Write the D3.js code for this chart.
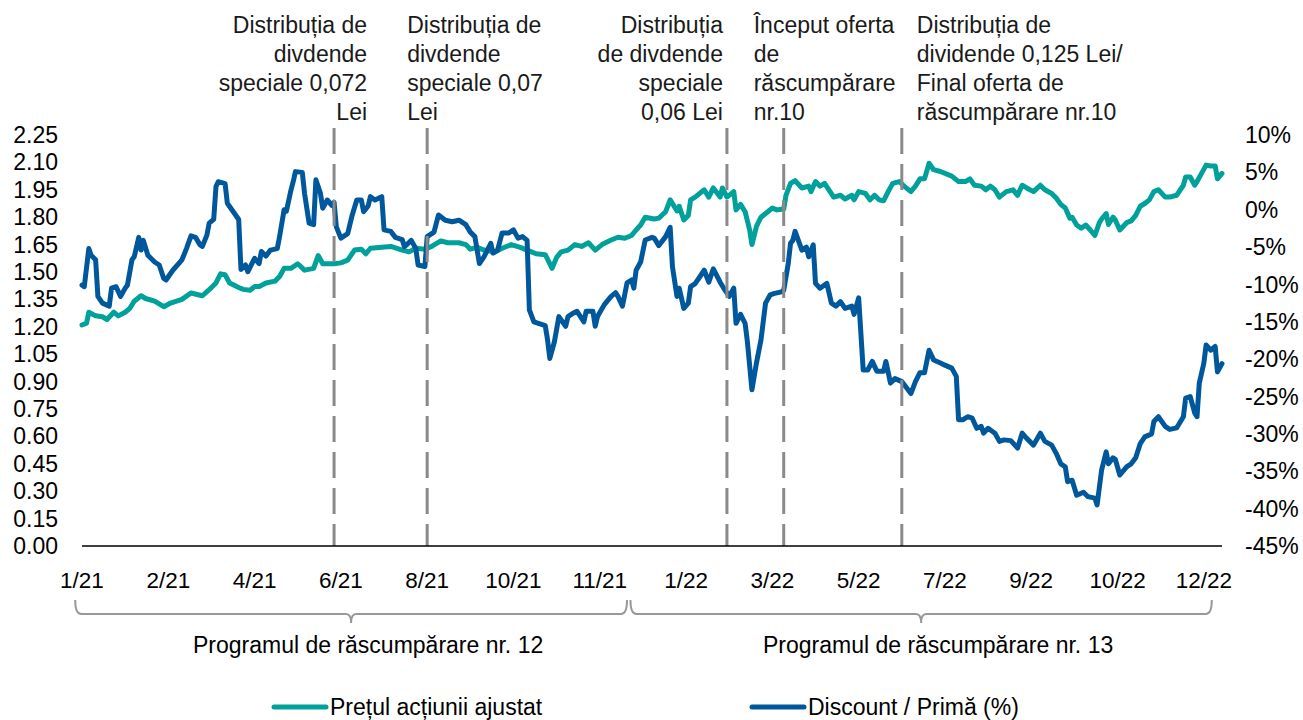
<!DOCTYPE html>
<html>
<head>
<meta charset="utf-8">
<script src="https://cdn.jsdelivr.net/npm/d3@7"></script>
<style>
  body { margin: 0; background: #fff; }
  svg { font-family: "Liberation Sans", Arial, sans-serif; }
</style>
</head>
<body>
<div id="chart"></div>
<script>
// trading-day index (0 = first session of 2021) and adjusted share price (Lei)
const priceDay = [0,2,3,6,9,11,14,16,19,21,23,26,28,32,36,39,44,48,53,57,
  59,61,63,65,69,71,74,76,78,81,85,87,89,92,95,98,102,104,106,111,
  114,117,120,123,125,127,132,136,141,144,147,151,154,158,161,166,169,171,174,177,
  182,185,189,193,196,200,204,207,209,211,214,217,220,223,226,229,233,236,239,242,
  244,246,248,252,254,257,259,262,263,265,267,268,270,274,276,278,281,282,284,287,
  288,290,292,294,295,297,299,302,304,306,309,310,312,314,317,320,321,323,325,327,
  331,334,336,339,340,342,345,347,349,351,353,355,357,360,362,365,367,369,371,373,
  375,378,383,386,389,391,393,396,398,400,402,404,407,410,412,414,416,419,422,424,
  427,429,431,433,435,436,438,440,442,444,446,448,449,451,452,454,455,457,460,462,
  464,466,468,470,472,474,477,479,482,485,486,488,490,491,493,495,497,499,500,502];
const priceVal = [1.21,1.22,1.28,1.26,1.255,1.24,1.28,1.26,1.28,1.30,
  1.34,1.37,1.355,1.34,1.31,1.33,1.35,1.385,1.37,1.415,
  1.44,1.49,1.485,1.44,1.415,1.405,1.40,1.42,1.42,1.44,
  1.45,1.475,1.52,1.52,1.545,1.51,1.52,1.59,1.545,1.545,
  1.55,1.565,1.62,1.625,1.60,1.63,1.635,1.64,1.62,1.61,
  1.63,1.625,1.64,1.67,1.66,1.66,1.65,1.625,1.635,1.62,
  1.61,1.63,1.65,1.635,1.62,1.60,1.595,1.52,1.58,1.61,
  1.62,1.65,1.64,1.66,1.62,1.65,1.675,1.69,1.685,1.70,
  1.73,1.757,1.80,1.79,1.795,1.83,1.895,1.835,1.86,1.785,
  1.81,1.895,1.91,1.95,1.91,1.96,1.91,1.96,1.91,1.94,
  1.84,1.87,1.83,1.73,1.65,1.75,1.80,1.83,1.85,1.84,
  1.845,1.92,1.985,2.00,1.96,1.97,1.94,1.995,1.97,1.985,
  1.91,1.92,1.90,1.92,1.895,1.94,1.93,1.895,1.92,1.895,
  1.89,1.94,1.985,1.995,1.97,1.94,1.97,2.01,2.01,2.095,
  2.06,2.05,2.025,1.995,1.995,2.01,1.975,1.97,1.95,1.97,
  1.95,1.91,1.94,1.95,1.92,1.975,1.96,1.94,1.975,1.95,
  1.93,1.905,1.87,1.85,1.795,1.80,1.757,1.74,1.757,1.73,
  1.70,1.77,1.79,1.82,1.76,1.80,1.785,1.73,1.77,1.78,
  1.81,1.86,1.875,1.895,1.94,1.95,1.91,1.91,1.92,1.975,
  2.02,2.02,1.975,1.995,2.04,2.085,2.08,2.08,2.01,2.04];

// trading-day index and discount / premium to NAV (%)
const discDay = [0,1,3,4,6,7,9,12,13,15,17,19,20,22,23,25,26,27,29,32,
  34,36,37,40,44,46,48,50,52,53,55,56,58,59,60,63,64,66,69,70,
  72,73,76,78,79,81,83,86,87,89,90,92,93,94,97,98,100,102,103,105,
  106,108,110,111,112,114,117,119,121,123,124,126,127,129,132,133,136,138,141,142,
  145,147,148,151,152,155,157,160,163,166,169,171,173,175,177,180,181,183,185,188,
  190,192,194,196,197,199,204,205,206,208,210,213,214,216,218,221,222,225,226,227,
  230,233,235,236,238,240,242,243,244,246,248,251,252,254,257,259,260,262,263,265,
  267,268,270,272,274,276,278,281,283,285,287,288,290,292,293,295,297,299,301,303,
  305,308,309,311,312,313,314,317,319,320,322,323,325,328,330,332,334,336,339,340,
  342,344,346,348,350,353,354,356,358,361,365,367,369,371,373,375,378,380,383,385,
  386,388,390,392,394,396,397,399,402,404,406,409,412,414,416,419,422,424,427,429,
  431,433,434,436,438,441,443,446,447,449,451,452,454,455,457,460,462,464,466,468,
  471,472,474,477,479,482,485,486,488,490,491,492,494,495,497,499,500,502];
const discVal = [-10.1,-10.3,-5.2,-6.1,-6.7,-11.6,-12.5,-12.9,-10.5,-10.3,
  -11.6,-10.5,-10.1,-6.7,-6.3,-3.7,-5.4,-4.1,-6.1,-7.0,
  -7.4,-9.2,-9.4,-8.1,-6.7,-5.2,-3.5,-3.7,-4.7,-4.9,
  -3.4,-1.8,-1.3,3.1,3.75,3.5,0.86,0.0,-1.3,-8.0,
  -7.4,-8.3,-6.5,-7.2,-5.6,-6.2,-5.4,-5.2,-3.6,0.0,
  -0.2,2.6,3.75,5.1,5.0,2.2,-1.8,-2.0,4.0,2.2,
  0.2,1.3,0.6,1.0,-2.3,-3.8,-3.2,-0.7,1.3,1.3,
  -0.25,0.5,1.75,1.3,1.75,-2.7,-2.9,-3.7,-4.0,-4.95,
  -4.1,-5.2,-7.4,-7.6,-3.6,-3.0,-0.7,-1.4,-1.6,-1.4,
  -2.0,-3.0,-3.6,-7.2,-6.3,-4.5,-5.8,-5.4,-3.1,-3.1,
  -2.7,-3.8,-3.6,-4.1,-13.4,-15.0,-15.5,-17.4,-19.9,-17.7,
  -14.3,-15.6,-14.3,-13.9,-13.6,-15.0,-13.6,-13.6,-15.6,-14.3,
  -12.7,-11.6,-11.1,-11.6,-12.9,-9.8,-9.4,-10.5,-8.1,-7.0,
  -4.05,-3.7,-3.8,-4.8,-3.6,-2.35,-7.6,-11.6,-10.5,-13.2,
  -12.5,-10.3,-9.9,-9.0,-8.1,-9.7,-7.9,-9.7,-10.7,-11.6,
  -10.5,-15.2,-14.0,-15.2,-17.65,-24.1,-20.5,-17.4,-12.5,-11.4,
  -11.2,-11.0,-10.8,-7.2,-4.5,-4.1,-2.9,-5.4,-5.0,-6.3,
  -4.7,-9.85,-10.5,-9.85,-12.5,-12.9,-12.3,-13.2,-12.9,-14.0,
  -11.8,-21.45,-21.45,-20.3,-21.6,-21.6,-20.3,-23.2,-22.6,-23.0,
  -24.6,-23.0,-21.8,-21.8,-18.8,-20.1,-20.5,-20.8,-21.2,-22.3,
  -28.1,-28.1,-27.7,-27.9,-29.25,-29.0,-29.9,-29.25,-29.9,-31.0,
  -30.8,-30.9,-31.9,-29.9,-30.6,-31.5,-29.9,-31.0,-31.5,-32.6,
  -34.0,-34.4,-36.4,-36.2,-38.2,-37.8,-38.4,-38.6,-39.5,-34.8,
  -32.4,-34.0,-33.2,-33.4,-35.5,-34.4,-34.0,-33.2,-31.3,-30.4,
  -30.0,-28.35,-27.7,-29.0,-29.4,-29.2,-27.7,-25.2,-25.0,-27.2,
  -27.7,-23.2,-20.55,-18.1,-18.8,-18.3,-21.7,-20.6];

const xLabels = ["1/21","2/21","4/21","6/21","8/21","10/21","11/21",
  "1/22","3/22","5/22","7/22","9/22","10/22","12/22"];
const leftTicks = [0,0.15,0.30,0.45,0.60,0.75,0.90,1.05,1.20,1.35,1.50,1.65,1.80,1.95,2.10,2.25];
const rightTicks = [-45,-40,-35,-30,-25,-20,-15,-10,-5,0,5,10];

const eventDays = [111, 152, 284, 309, 361];
const eventText = [
  ["Distribuția de", "divdende", "speciale 0,072", "Lei"],
  ["Distribuția de", "divdende", "speciale 0,07", "Lei"],
  ["Distribuția", "de divdende", "speciale", "0,06 Lei"],
  ["Început oferta", "de", "răscumpărare", "nr.10"],
  ["Distribuția de", "dividende 0,125 Lei/", "Final oferta de", "răscumpărare nr.10"]
];

const programs = ["Programul de răscumpărare nr. 12", "Programul de răscumpărare nr. 13"];
const programStart = [-3, 241.5];
const programEnd = [240, 497.5];

const seriesNames = ["Prețul acțiunii ajustat", "Discount / Primă (%)"];
const colors = ["#00a19a", "#00589c"];

const width = 1303, height = 720;
const svg = d3.select('#chart').append('svg')
  .attr('width', width)
  .attr('height', height);

const x = d3.scaleLinear().domain([0, 502]).range([82, 1222]);
const yL = d3.scaleLinear().domain([0, 2.25]).range([546, 135]);
const yR = d3.scaleLinear().domain([-45, 10]).range([546, 135]);

// axis labels
svg.append('g').selectAll('text')
  .data(leftTicks)
  .join('text')
    .attr('x', 58)
    .attr('y', d => yL(d))
    .attr('dy', '0.35em')
    .attr('text-anchor', 'end')
    .style('font-size', '23px')
    .attr('fill', '#000')
    .text(d => d.toFixed(2));

svg.append('g').selectAll('text')
  .data(rightTicks)
  .join('text')
    .attr('x', 1245)
    .attr('y', d => yR(d))
    .attr('dy', '0.35em')
    .style('font-size', '23px')
    .attr('fill', '#000')
    .text(d => d + '%');

const labelStep = 38;
svg.append('g').selectAll('text')
  .data(xLabels)
  .join('text')
    .attr('x', (d, i) => x(i * labelStep))
    .attr('y', 580)
    .attr('dy', '0.35em')
    .attr('text-anchor', 'middle')
    .style('font-size', '22.5px')
    .attr('fill', '#000')
    .text(d => d);

// series
const priceData = priceDay.map((d, i) => [d, priceVal[i]]);
const discData = discDay.map((d, i) => [d, discVal[i]]);

svg.append('path')
  .datum(priceData)
  .attr('fill', 'none')
  .attr('stroke', colors[0])
  .attr('stroke-width', 5)
  .attr('stroke-linejoin', 'round')
  .attr('stroke-linecap', 'round')
  .attr('d', d3.line().x(d => x(d[0])).y(d => yL(d[1])));

svg.append('path')
  .datum(discData)
  .attr('fill', 'none')
  .attr('stroke', colors[1])
  .attr('stroke-width', 5)
  .attr('stroke-linejoin', 'round')
  .attr('stroke-linecap', 'round')
  .attr('d', d3.line().x(d => x(d[0])).y(d => yR(d[1])));

// event markers
svg.append('g').selectAll('line')
  .data(eventDays)
  .join('line')
    .attr('x1', d => x(d))
    .attr('x2', d => x(d))
    .attr('y1', 128)
    .attr('y2', 546)
    .attr('stroke', '#8a8a8a')
    .attr('stroke-width', 3)
    .attr('stroke-dasharray', '26,10');

// annotation text: alignment and offset from the marker
const eventAnchor = ['end', 'start', 'end', 'start', 'start'];
const eventOffset = [33, -20, -4, -30, 15];
eventText.forEach((lines, k) => {
  const t = svg.append('text')
    .attr('text-anchor', eventAnchor[k])
    .style('font-size', '23px')
    .attr('fill', '#1a1a1a');
  lines.forEach((s, j) => {
    t.append('tspan')
      .attr('x', x(eventDays[k]) + eventOffset[k])
      .attr('y', 25 + j * 29)
      .attr('dy', '0.35em')
      .text(s);
  });
});

// baseline
svg.append('line')
  .attr('x1', x(0)).attr('x2', x(502))
  .attr('y1', yL(0)).attr('y2', yL(0))
  .attr('stroke', '#000')
  .attr('stroke-width', 1.5);

// buyback programme braces
programs.forEach((name, k) => {
  const x1 = x(programStart[k]), x2 = x(programEnd[k]);
  const cx = (x1 + x2) / 2, yb = 614;
  const p = d3.path();
  p.moveTo(x1, 600);
  p.quadraticCurveTo(x1, yb, x1 + 6, yb);
  p.lineTo(cx - 5, yb);
  p.quadraticCurveTo(cx, yb, cx, yb + 9);
  p.quadraticCurveTo(cx, yb, cx + 5, yb);
  p.lineTo(x2 - 6, yb);
  p.quadraticCurveTo(x2, yb, x2, 600);
  svg.append('path')
    .attr('d', p.toString())
    .attr('fill', 'none')
    .attr('stroke', '#999')
    .attr('stroke-width', 2);
  svg.append('text')
    .attr('x', cx + 17)
    .attr('y', 645)
    .attr('dy', '0.35em')
    .attr('text-anchor', 'middle')
    .style('font-size', '23px')
    .attr('fill', '#000')
    .text(name);
});

// legend
const legendX = [272, 750];
seriesNames.forEach((name, k) => {
  svg.append('line')
    .attr('x1', legendX[k] + 2).attr('x2', legendX[k] + 54)
    .attr('y1', 707).attr('y2', 707)
    .attr('stroke', colors[k])
    .attr('stroke-width', 5)
    .attr('stroke-linecap', 'round');
  svg.append('text')
    .attr('x', legendX[k] + 58)
    .attr('y', 707)
    .attr('dy', '0.35em')
    .style('font-size', '23px')
    .attr('fill', '#000')
    .text(name);
});
</script>
</body>
</html>
